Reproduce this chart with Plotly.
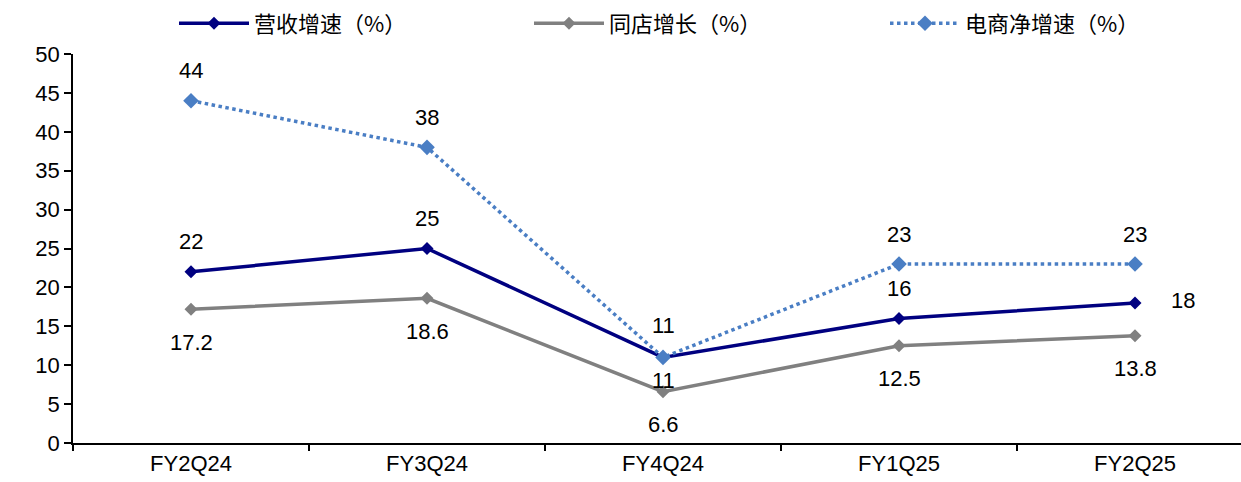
import plotly.graph_objects as go

quarters = ["FY2Q24", "FY3Q24", "FY4Q24", "FY1Q25", "FY2Q25"]
revenue_growth = [22, 25, 11, 16, 18]
same_store_growth = [17.2, 18.6, 6.6, 12.5, 13.8]
ecommerce_growth = [44, 38, 11, 23, 23]

NAVY = "#000080"
GREY = "#808080"
BLUE = "#4a7ec4"
NUM_FONT = "Liberation Sans, Arial, sans-serif"
CJK_FONT = "Noto Sans CJK SC, sans-serif"

x_idx = list(range(len(quarters)))

fig = go.Figure()
fig.add_trace(go.Scatter(
    x=x_idx, y=revenue_growth, name="营收增速（%）", mode="lines+markers",
    line=dict(color=NAVY, width=3.5),
    marker=dict(symbol="diamond", size=10, color=NAVY),
    legend="legend",
))
fig.add_trace(go.Scatter(
    x=x_idx, y=same_store_growth, name="同店增长（%）", mode="lines+markers",
    line=dict(color=GREY, width=3.5),
    marker=dict(symbol="diamond", size=10, color=GREY),
    legend="legend2",
))
fig.add_trace(go.Scatter(
    x=x_idx, y=ecommerce_growth, name="电商净增速（%）", mode="lines+markers",
    line=dict(color=BLUE, width=3.5, dash="dot"),
    marker=dict(symbol="diamond", size=12, color=BLUE),
    legend="legend3",
))

# label offsets in px (dx, dy) for each point of each series
rev_shift = [(0, 30), (0, 30), (0, -23), (0, 30), (48, 2)]
ss_shift = [(0, -33), (0, -33), (0, -33), (0, -33), (0, -33)]
ec_shift = [(0, 30), (0, 30), (0, 32), (0, 30), (0, 30)]

annotations = []
for vals, shifts in ((revenue_growth, rev_shift),
                     (same_store_growth, ss_shift),
                     (ecommerce_growth, ec_shift)):
    for i, (v, (dx, dy)) in enumerate(zip(vals, shifts)):
        annotations.append(dict(
            x=x_idx[i], y=v, text=f"{v:g}", showarrow=False,
            xshift=dx, yshift=dy,
            font=dict(family=NUM_FONT, size=22, color="#000000"),
        ))


def legend_box(left_px):
    return dict(
        orientation="h", x=left_px / 1241, xanchor="left", xref="container",
        y=0.995, yanchor="top", yref="container",
        font=dict(family=CJK_FONT, size=22, color="#000000"),
        itemwidth=70, bgcolor="rgba(0,0,0,0)",
    )


fig.update_layout(
    width=1241, height=482,
    margin=dict(l=73, r=0, t=54, b=39, autoexpand=False),
    paper_bgcolor="white", plot_bgcolor="white",
    showlegend=True,
    legend=legend_box(174),
    legend2=legend_box(529),
    legend3=legend_box(885),
    annotations=annotations,
)

fig.update_xaxes(
    tickmode="array", tickvals=x_idx, ticktext=quarters,
    range=[-0.5, 4.449],
    showline=True, linecolor="#000000", linewidth=1.5,
    ticks="", showgrid=False, zeroline=False,
    tickfont=dict(family=NUM_FONT, size=22, color="#000000"),
)
# tick marks on the category boundaries
fig.update_layout(xaxis2=dict(
    overlaying="x", matches="x", tickmode="array",
    tickvals=[-0.5, 0.5, 1.5, 2.5, 3.5], ticks="outside", ticklen=7,
    tickcolor="#000000", tickwidth=1.5, showticklabels=False,
    showgrid=False, zeroline=False, anchor="y", side="bottom",
))
fig.add_trace(go.Scatter(x=[None], y=[None], xaxis="x2", showlegend=False,
                         hoverinfo="skip"))

fig.update_yaxes(
    range=[0, 50], dtick=5,
    showline=True, linecolor="#000000", linewidth=1.5,
    ticks="outside", ticklen=7, tickcolor="#000000", tickwidth=1.5,
    showgrid=False, zeroline=False,
    tickfont=dict(family=NUM_FONT, size=22, color="#000000"),
)

fig.write_html("out.html")
